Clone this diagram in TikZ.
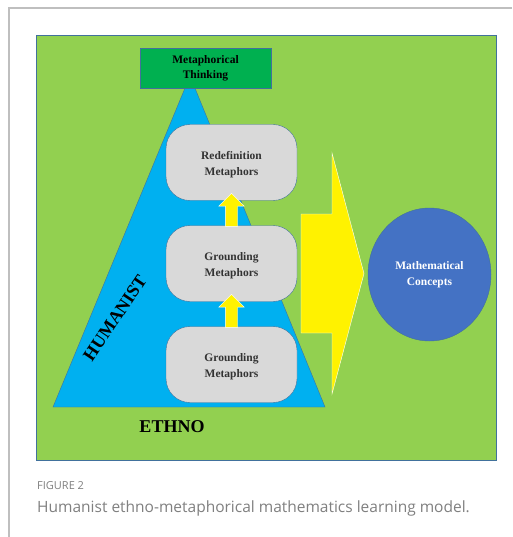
\documentclass[tikz,border=0pt]{standalone}
\usepackage{fontspec}
\setmainfont{Liberation Serif}
\setsansfont{Open Sans}
\usetikzlibrary{calc,shapes.arrows,shapes.geometric}
\tikzset{>=latex}
\definecolor{grass}{HTML}{92D050}
\definecolor{sky}{HTML}{00B0F0}
\definecolor{leaf}{HTML}{00B050}
\definecolor{cloud}{HTML}{D9D9D9}
\definecolor{ocean}{HTML}{4472C4}
\definecolor{edge}{HTML}{41719C}
\tikzset{
  thinkbox/.style={draw=edge,fill=leaf,minimum width=131,minimum height=40,
    align=center,inner sep=0,font=\bfseries\fontsize{11.5}{15}\selectfont},
  metabox/.style={draw=edge,fill=cloud,rounded corners=24,minimum width=131,
    minimum height=76,align=center,inner sep=0,text=black!80,
    font=\bfseries\fontsize{11.5}{16}\selectfont},
  uparrow/.style={single arrow,draw=white,fill=yellow,rotate=90,inner xsep=0,
    inner ysep=6,minimum height=33,single arrow head extend=6.5}
}

\begin{document}
\begin{tikzpicture}[x=1pt,y=-1pt]
  \useasboundingbox (0,0) rectangle (512,537);
  \fill[white] (0,0) rectangle (512,537);
  % frame of the figure
  \draw[black!25,line width=1.2] (9,537) -- (9,8) -- (512,8);

  % green ground
  \draw[draw=edge,fill=grass] (36,35) rectangle (496,460);

  % triangle
  \draw[draw=edge,fill=sky] (190,76) -- (325,407) -- (53,407) -- cycle;

  % big arrow
  \draw[draw=white,fill=yellow] (301,214) -- (332,214) -- (332,153) -- (364,273.5)
    -- (332,394) -- (332,333) -- (301,333) -- cycle;

  % boxes
  \node[thinkbox] (think) at (205.5,68) {Metaphorical\\Thinking};
  \node[metabox] (redef) at (231.5,162.5) {\\[-4pt]Redefinition\\Metaphors};
  \node[metabox] (groundB) at (231.5,263.5) {\\[-4pt]Grounding\\Metaphors};
  \node[metabox] (groundA) at (231.5,364.5) {\\[-4pt]Grounding\\Metaphors};

  % small arrows
  \node[uparrow] (upB) at ($(groundB.north)!0.5!(redef.south)$) {};
  \node[uparrow] (upA) at ($(groundA.north)!0.5!(groundB.south)$) {};

  % concepts
  \node[ellipse,draw=edge,fill=ocean,minimum width=123,minimum height=133,
    align=center,text=white,font=\bfseries\fontsize{11.5}{16}\selectfont]
    (concepts) at (429.5,274.5) {Mathematical\\Concepts};

  % labels
  \node[rotate=56,font=\bfseries\fontsize{18}{18}\selectfont] (humanist)
    at (115,318) {HUMANIST};
  \node[font=\bfseries\fontsize{18}{18}\selectfont] (ethno) at (172,427) {ETHNO};

  % caption
  \node[anchor=west,inner sep=0,text=black!50,font=\sffamily\fontsize{11}{11}\selectfont]
    (fig) at (37,486) {FIGURE 2};
  \node[anchor=west,inner sep=0,text=black!50,font=\sffamily\fontsize{15.5}{15.5}\selectfont]
    (cap) at (37,508) {Humanist ethno-metaphorical mathematics learning model.};
\end{tikzpicture}
\end{document}
